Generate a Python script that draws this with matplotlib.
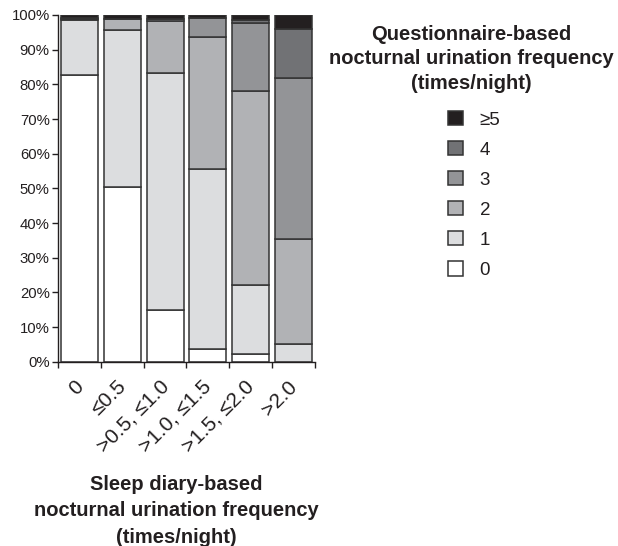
import numpy as np
import matplotlib
matplotlib.use("Agg")
import matplotlib.pyplot as plt
from matplotlib.transforms import ScaledTranslation

plt.rcParams["font.family"] = ["Liberation Sans", "DejaVu Sans"]

# sleep diary categories (x axis)
diary_groups = ["0", "≤0.5", ">0.5, ≤1.0", ">1.0, ≤1.5", ">1.5, ≤2.0", ">2.0"]

# questionnaire answer shares in each diary group (%)
q_labels = ["0", "1", "2", "3", "4", "≥5"]
q0 = [82.7, 50.5, 15.0, 3.7, 2.2, 0.0]
q1 = [15.8, 45.3, 68.4, 51.9, 19.9, 5.1]
q2 = [0.3, 3.0, 14.9, 38.0, 56.1, 30.2]
q3 = [0.2, 0.0, 0.5, 5.5, 19.4, 46.4]
q4 = [0.0, 0.0, 0.0, 0.0, 1.0, 14.3]
q5 = [1.0, 1.2, 1.2, 0.9, 1.4, 4.0]

colors = ["#ffffff", "#dcdddf", "#b1b2b5", "#939497", "#717275", "#231f20"]
edge = "#333333"
ink = "#231f20"

fig = plt.figure(figsize=(6.18, 5.46), dpi=100)
ax = fig.add_axes([58 / 618, 1 - 361.7 / 546, (315 - 58) / 618, (361.7 - 15) / 546])

x = np.arange(len(diary_groups))
bottom = np.zeros(len(diary_groups))
handles = []
for vals, col, lab in zip([q0, q1, q2, q3, q4, q5], colors, q_labels):
    b = ax.bar(x, vals, width=0.86, bottom=bottom, color=col,
               edgecolor=edge, linewidth=1.1, label=lab)
    handles.append(b)
    bottom += np.array(vals)

ax.set_xlim(-0.5, len(diary_groups) - 0.5)
ax.set_ylim(0, 100)
ax.set_yticks(np.arange(0, 101, 10))
ax.set_yticklabels([f"{v}%" for v in range(0, 101, 10)], fontsize=10.7, color=ink)

ax.set_xticks(np.arange(len(diary_groups) + 1) - 0.5)
ax.set_xticklabels([])
ax.set_xticks(x, minor=True)
ax.set_xticklabels(diary_groups, minor=True, rotation=45, ha="right", va="top",
                   rotation_mode="anchor", fontsize=15, color=ink)
ax.tick_params(axis="x", which="minor", length=0, pad=11)
ax.tick_params(axis="x", which="major", length=4, width=1, color=ink)
ax.tick_params(axis="y", length=4, width=1, color=ink, pad=2)
shift = ScaledTranslation(-6 / 100, 0, fig.dpi_scale_trans)
for lbl in ax.get_xticklabels(minor=True):
    lbl.set_transform(lbl.get_transform() + shift)

for s in ["top", "right"]:
    ax.spines[s].set_visible(False)
for s in ["left", "bottom"]:
    ax.spines[s].set_color(ink)
    ax.spines[s].set_linewidth(1.0)

fig.text(176 / 618, 1 - 475 / 546,
         "Sleep diary-based\nnocturnal urination frequency\n(times/night)",
         ha="center", va="top", fontsize=14.5, fontweight="bold",
         color=ink, linespacing=1.5)

fig.text(471 / 618, 1 - 25 / 546,
         "Questionnaire-based\nnocturnal urination frequency\n(times/night)",
         ha="center", va="top", fontsize=14.5, fontweight="bold",
         color=ink, linespacing=1.36)

leg = fig.legend(handles[::-1], q_labels[::-1], loc="upper center",
                 bbox_to_anchor=(474 / 618, 1 - 94 / 546), frameon=False,
                 fontsize=13.5, handlelength=0.8, handleheight=0.8,
                 labelspacing=0.66, handletextpad=0.9)
for t in leg.get_texts():
    t.set_color(ink)

fig.savefig("out.png", dpi=100)
